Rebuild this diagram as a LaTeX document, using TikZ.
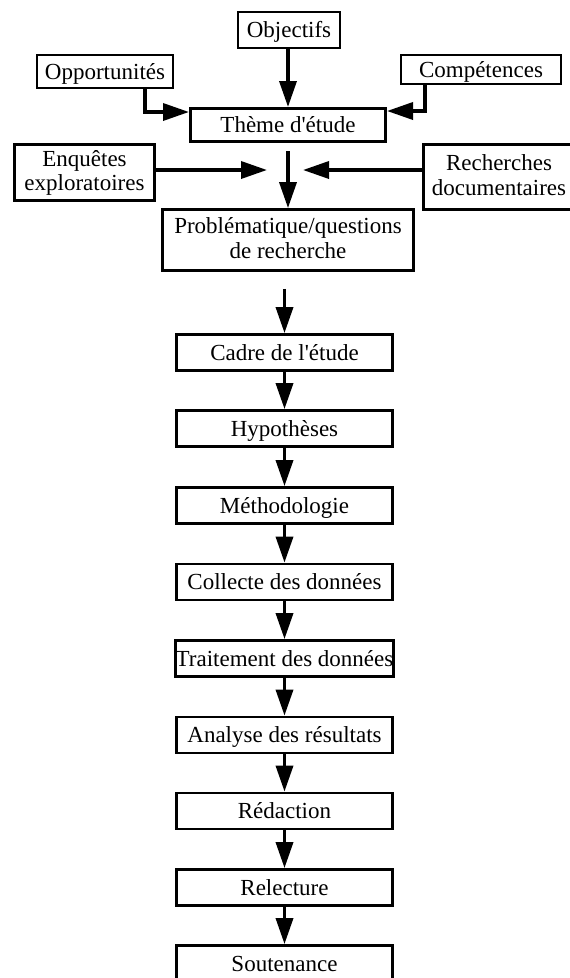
\documentclass[tikz,border=0pt]{standalone}
\usepackage{fontspec}
\setmainfont{Liberation Serif}[Ligatures=TeXOff]
\usetikzlibrary{arrows.meta}
\newcommand{\twolines}[2]{\begin{tabular}[b]{@{}c@{}}#1\\#2\end{tabular}}
\begin{document}
\begin{tikzpicture}[x=1pt,y=-1pt,
  every node/.style={font=\fontsize{23}{24.5}\selectfont, inner sep=0pt},
  thinbox/.style={draw, line width=1.6pt, text height=15pt, text depth=0pt},
  stdbox/.style={draw, line width=2.8pt, text height=15pt, text depth=0pt},
  twobox/.style={draw, line width=2.8pt, text height=40pt, text depth=4pt},
  colbox/.style={stdbox, minimum width=216pt, minimum height=36pt},
  arr/.style={line width=3.5pt, -{Triangle[length=26pt,width=17pt]}}
]
\useasboundingbox[fill=white] (0,0) rectangle (570,978);

% top part
\node[thinbox, minimum width=102.4pt, minimum height=36.4pt] (obj) at (289,30) {Objectifs};
\node[thinbox, minimum width=136.4pt, minimum height=33.4pt] (opp) at (105,71.5) {Opportunités};
\node[thinbox, minimum width=160.4pt, minimum height=29.4pt] (comp) at (481,69.5) {Compétences};
\node[stdbox, minimum width=195.2pt, minimum height=33.2pt] (theme) at (288,125) {Thème d'étude};
\node[twobox, minimum width=140.2pt, minimum height=56.2pt] (enq) at (84.5,172.5) {\twolines{Enquêtes}{exploratoires}};
\node[twobox, minimum width=151pt, minimum height=65pt] (rech) at (499,177) {\twolines{Recherches}{documentaires}};
\node[twobox, minimum width=251pt, minimum height=61pt] (prob) at (288,240) {\twolines{Problématique/questions}{de recherche}};

% main column
\node[colbox] (cadre) at (284.5,352.5) {Cadre de l'étude};
\node[colbox] (hyp)   at (284.5,428.5) {Hypothèses};
\node[colbox] (meth)  at (284.5,505.5) {Méthodologie};
\node[colbox] (coll)  at (284.5,582)   {Collecte des données};
\node[colbox] (trait) at (284.5,658.5) {Traitement des données};
\node[colbox] (ana)   at (284.5,735)   {Analyse des résultats};
\node[colbox] (red)   at (284.5,811)   {Rédaction};
\node[colbox] (rel)   at (284.5,887.5) {Relecture};
\node[colbox] (sout)  at (284.5,963.5) {Soutenance};

\coordinate (ql) at (267,170);
\coordinate (qr) at (303,170);

% connectors
\draw[arr] (obj.south -| theme.north) -- (theme.north);
\draw[arr, line join=miter] ([xshift=40pt]opp.south) |- ([yshift=-5pt]theme.north west);
\draw[arr, line join=miter] ([xshift=-56pt]comp.south) |- ([yshift=-4pt]theme.north east);
\draw[arr] (enq.east |- ql) -- (ql);
\draw[arr] (rech.west |- qr) -- (qr);
\draw[arr, shorten <=8pt] (theme.south) -- (prob.north);
\draw[arr, shorten <=17pt] (prob.south -| cadre.north) -- (cadre.north);
\draw[arr] (cadre) -- (hyp);
\draw[arr] (hyp) -- (meth);
\draw[arr] (meth) -- (coll);
\draw[arr] (coll) -- (trait);
\draw[arr] (trait) -- (ana);
\draw[arr] (ana) -- (red);
\draw[arr] (red) -- (rel);
\draw[arr] (rel) -- (sout);
\end{tikzpicture}
\end{document}
